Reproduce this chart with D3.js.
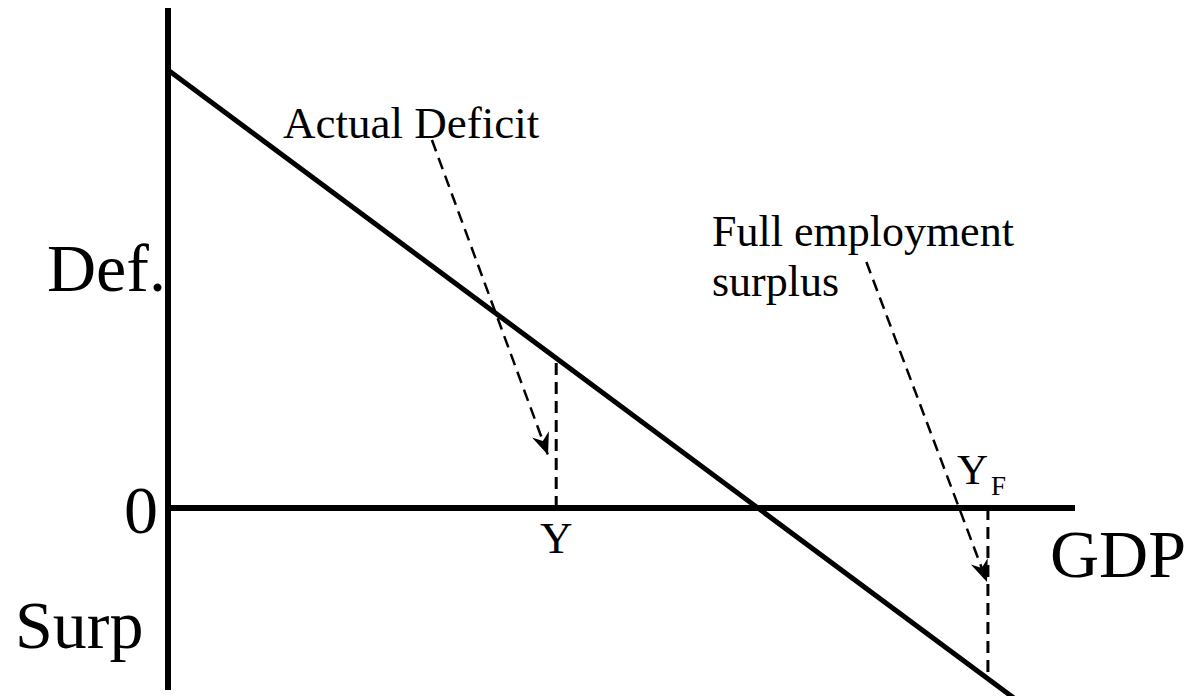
<!DOCTYPE html>
<html>
<head>
<meta charset="utf-8">
<script src="https://cdn.jsdelivr.net/npm/d3@7"></script>
<style>
  html, body { margin: 0; padding: 0; background: #fff; }
  svg text { font-family: "Liberation Serif", "Times New Roman", serif; fill: #000; }
</style>
</head>
<body>
<div id="chart"></div>
<script>
// budget line: deficit falls as GDP rises
const budgetLine = [[0, 43.8], [94, -19.5]];
// marked output levels
const markers = [
  { name: 'Y', x: 42.8, y: 15.0 },
  { name: 'YF', x: 90.4, y: -17.0 }
];
// annotation arrows [from, to]
const arrows = [
  [[29.1, 36.8], [41.9, 5.3]],
  [[77.0, 24.6], [90.3, -7.4]]
];
const xDomain = [0, 100];
const yDomain = [-18.2, 50];

const width = 1194;
const height = 696;

const svg = d3.select('#chart')
  .append('svg')
  .attr('width', width)
  .attr('height', height);

const x = d3.scaleLinear().domain(xDomain).range([168, 1075]);
const y = d3.scaleLinear().domain(yDomain).range([690, 8]);

svg.append('defs').append('marker')
  .attr('id', 'head')
  .attr('markerUnits', 'userSpaceOnUse')
  .attr('viewBox', '-22 -10 24 20')
  .attr('refX', 0)
  .attr('refY', 0)
  .attr('markerWidth', 24)
  .attr('markerHeight', 20)
  .attr('orient', 'auto')
  .append('path')
  .attr('d', 'M0,0 L-22,-9 L-15,0 L-22,9 Z')
  .attr('fill', '#000');

// axes
svg.append('line')
  .attr('x1', x(0)).attr('x2', x(0))
  .attr('y1', y(yDomain[1])).attr('y2', y(yDomain[0]))
  .attr('stroke', '#000').attr('stroke-width', 6);

svg.append('line')
  .attr('x1', x(0)).attr('x2', x(xDomain[1]))
  .attr('y1', y(0)).attr('y2', y(0))
  .attr('stroke', '#000').attr('stroke-width', 6);

// budget line
svg.append('path')
  .datum(budgetLine)
  .attr('d', d3.line().x(d => x(d[0])).y(d => y(d[1])))
  .attr('fill', 'none')
  .attr('stroke', '#000')
  .attr('stroke-width', 5);

// dashed drops
svg.selectAll('.drop')
  .data(markers)
  .enter()
  .append('line')
  .attr('x1', d => x(d.x)).attr('x2', d => x(d.x))
  .attr('y1', d => y(0)).attr('y2', d => y(d.y))
  .attr('stroke', '#000')
  .attr('stroke-width', 3)
  .attr('stroke-dasharray', '12,7');

// dashed arrows
svg.selectAll('.arrow')
  .data(arrows)
  .enter()
  .append('line')
  .attr('x1', d => x(d[0][0])).attr('y1', d => y(d[0][1]))
  .attr('x2', d => x(d[1][0])).attr('y2', d => y(d[1][1]))
  .attr('stroke', '#000')
  .attr('stroke-width', 2.5)
  .attr('stroke-dasharray', '12,7')
  .attr('marker-end', 'url(#head)');

// labels
svg.append('text').attr('x', 283).attr('y', 138).style('font-size', '45px').text('Actual Deficit');

svg.append('text').attr('x', 712).attr('y', 246).style('font-size', '44px').text('Full employment');
svg.append('text').attr('x', 712).attr('y', 296).style('font-size', '44px').text('surplus');

svg.append('text').attr('x', 47).attr('y', 291).style('font-size', '68px').text('Def.');
svg.append('text').attr('x', 158).attr('y', 533).attr('text-anchor', 'end').style('font-size', '68px').text('0');
svg.append('text').attr('x', 15).attr('y', 648).style('font-size', '68px').text('Surp');
svg.append('text').attr('x', 1050).attr('y', 577).style('font-size', '68px').text('GDP');

svg.append('text')
  .attr('x', x(markers[0].x)).attr('y', 553)
  .attr('text-anchor', 'middle')
  .style('font-size', '45px')
  .text('Y');

const yf = svg.append('text')
  .attr('x', 957).attr('y', 484)
  .style('font-size', '43px');
yf.append('tspan').text('Y');
yf.append('tspan').attr('dx', 3).attr('dy', 11).style('font-size', '27px').text('F');
</script>
</body>
</html>
